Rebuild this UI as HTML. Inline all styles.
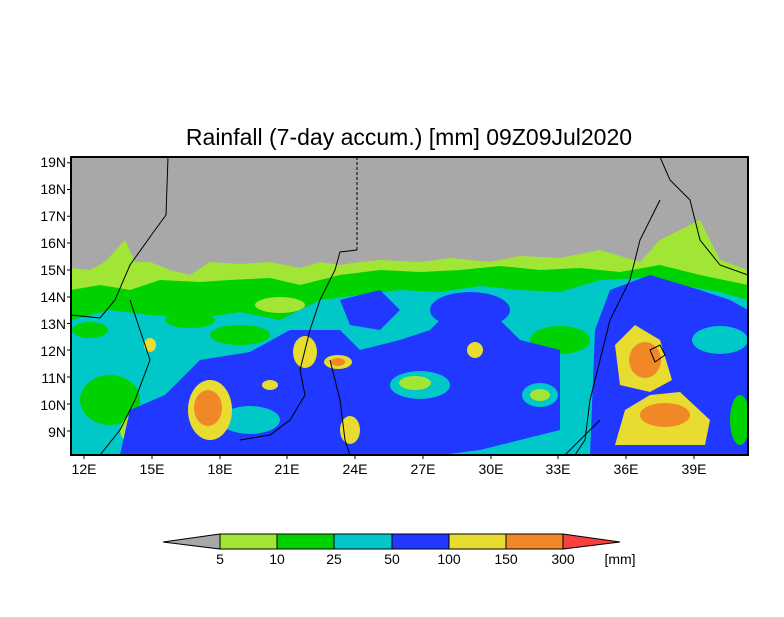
<!DOCTYPE html>
<html><head><style>
body{margin:0;background:#fff;width:784px;height:612px;overflow:hidden;font-family:"Liberation Sans",sans-serif}
</style></head><body>
<svg width="784" height="612" xmlns="http://www.w3.org/2000/svg" font-family="Liberation Sans, sans-serif">
<defs><clipPath id="c"><rect x="71" y="157" width="677" height="298"/></clipPath></defs>
<text x="409" y="145" font-size="23" text-anchor="middle" fill="#000">Rainfall (7-day accum.) [mm] 09Z09Jul2020</text>
<g clip-path="url(#c)">
<rect x="71" y="157" width="677" height="298" fill="#a8a8a8"/>
<path d="M71 268 L90 270 L105 262 L125 240 L135 262 L150 262 L170 270 L190 275 L210 262 L240 264 L270 262 L300 268 L320 262 L340 265 L360 262 L380 260 L420 262 L450 258 L490 262 L520 256 L560 258 L600 250 L640 262 L660 240 L700 220 L720 260 L748 270 L748 455 L71 455 Z" fill="#a2e635"/>
<path d="M71 290 L100 285 L130 290 L160 280 L200 282 L230 280 L270 278 L300 285 L340 275 L380 270 L420 272 L460 270 L500 266 L540 270 L580 268 L620 272 L660 265 L700 275 L748 285 L748 455 L71 455 Z" fill="#00d200"/>
<path d="M71 320 L110 310 L150 315 L200 318 L240 312 L280 320 L320 300 L360 295 L400 290 L440 292 L480 286 L520 290 L560 292 L600 280 L640 278 L680 285 L720 292 L748 300 L748 455 L71 455 Z" fill="#00c8c8"/>
<ellipse cx="240" cy="335" rx="30" ry="10" fill="#00d200"/>
<ellipse cx="190" cy="320" rx="25" ry="8" fill="#00d200"/>
<ellipse cx="280" cy="305" rx="25" ry="8" fill="#a2e635"/>
<ellipse cx="560" cy="340" rx="30" ry="14" fill="#00d200"/>
<ellipse cx="110" cy="400" rx="30" ry="25" fill="#00d200"/>
<ellipse cx="150" cy="430" rx="30" ry="20" fill="#a2e635"/>
<ellipse cx="90" cy="330" rx="18" ry="8" fill="#00d200"/>
<path d="M120 455 L130 410 L165 395 L200 360 L250 352 L290 330 L340 330 L360 350 L400 340 L430 330 L460 300 L500 320 L520 340 L560 350 L560 430 L520 440 L480 450 L440 455 Z" fill="#2038ff"/>
<path d="M590 455 L595 330 L610 290 L650 275 L700 290 L730 300 L748 310 L748 455 Z" fill="#2038ff"/>
<path d="M340 300 L380 290 L400 310 L380 330 L350 325 Z" fill="#2038ff"/>
<ellipse cx="470" cy="310" rx="40" ry="18" fill="#2038ff"/>
<ellipse cx="250" cy="420" rx="30" ry="14" fill="#00c8c8"/>
<ellipse cx="420" cy="385" rx="30" ry="14" fill="#00c8c8"/>
<ellipse cx="415" cy="383" rx="16" ry="7" fill="#a2e635"/>
<ellipse cx="540" cy="395" rx="18" ry="12" fill="#00c8c8"/>
<ellipse cx="540" cy="395" rx="10" ry="6" fill="#a2e635"/>
<ellipse cx="720" cy="340" rx="28" ry="14" fill="#00c8c8"/>
<ellipse cx="740" cy="420" rx="10" ry="25" fill="#00d200"/>
<ellipse cx="210" cy="410" rx="22" ry="30" fill="#e8dc30"/>
<ellipse cx="208" cy="408" rx="14" ry="18" fill="#f08828"/>
<ellipse cx="305" cy="352" rx="12" ry="16" fill="#e8dc30"/>
<ellipse cx="338" cy="362" rx="14" ry="7" fill="#e8dc30"/>
<ellipse cx="338" cy="362" rx="7" ry="4" fill="#f08828"/>
<ellipse cx="350" cy="430" rx="10" ry="14" fill="#e8dc30"/>
<ellipse cx="270" cy="385" rx="8" ry="5" fill="#e8dc30"/>
<ellipse cx="150" cy="345" rx="6" ry="7" fill="#e8dc30"/>
<ellipse cx="475" cy="350" rx="8" ry="8" fill="#e8dc30"/>
<path d="M615 345 L635 325 L660 340 L672 380 L650 392 L620 385 Z" fill="#e8dc30"/>
<ellipse cx="645" cy="360" rx="16" ry="18" fill="#f08828"/>
<path d="M615 445 L625 410 L650 395 L680 392 L710 420 L705 445 Z" fill="#e8dc30"/>
<ellipse cx="665" cy="415" rx="25" ry="12" fill="#f08828"/>
<g fill="none" stroke="#000" stroke-width="1">
<path d="M168 157 L166 215 L155 230 L130 265 L115 300 L100 318 L71 315"/>
<path d="M357 157 L357 250" stroke-dasharray="3,2"/>
<path d="M357 250 L340 252 L335 270 L320 300 L310 330 L300 370 L305 395 L290 420 L270 435 L240 440"/>
<path d="M130 300 L140 330 L150 360 L135 400 L120 430 L100 455"/>
<path d="M330 360 L340 400 L345 440 L350 455"/>
<path d="M660 157 L670 180 L690 200 L700 240 L720 265 L748 275"/>
<path d="M660 200 L640 240 L630 280 L610 320 L600 360 L590 400 L585 440 L575 455"/>
<path d="M565 455 L580 440 L600 420"/>
<path d="M650 350 L660 345 L665 355 L655 362 Z"/>
</g>
</g>
<rect x="71" y="157" width="677" height="298" fill="none" stroke="#000" stroke-width="2"/>
<g font-size="14" fill="#000" text-anchor="end">
<text x="66" y="167">19N</text><text x="66" y="194">18N</text><text x="66" y="221">17N</text>
<text x="66" y="248">16N</text><text x="66" y="275">15N</text><text x="66" y="302">14N</text>
<text x="66" y="329">13N</text><text x="66" y="356">12N</text><text x="66" y="383">11N</text>
<text x="66" y="410">10N</text><text x="66" y="437">9N</text>
</g>
<g stroke="#000"><path d="M67 162.7h4M67 189.5h4M67 216.3h4M67 243h4M67 270h4M67 297h4M67 323.5h4M67 350h4M67 377h4M67 404h4M67 431h4"/>
<path d="M84 455v4M152 455v4M220 455v4M287 455v4M355 455v4M423 455v4M491 455v4M558 455v4M626 455v4M694 455v4"/></g>
<g font-size="14" fill="#000" text-anchor="middle">
<text x="84" y="474">12E</text><text x="152" y="474">15E</text><text x="220" y="474">18E</text>
<text x="287" y="474">21E</text><text x="355" y="474">24E</text><text x="423" y="474">27E</text>
<text x="491" y="474">30E</text><text x="558" y="474">33E</text><text x="626" y="474">36E</text>
<text x="694" y="474">39E</text>
</g>
<polygon points="163,542 220,534 220,549" fill="#a8a8a8" stroke="#000"/>
<rect x="220" y="534" width="57" height="15" fill="#a2e635" stroke="#000"/>
<rect x="277" y="534" width="57" height="15" fill="#00d200" stroke="#000"/>
<rect x="334" y="534" width="58" height="15" fill="#00c8c8" stroke="#000"/>
<rect x="392" y="534" width="57" height="15" fill="#2038ff" stroke="#000"/>
<rect x="449" y="534" width="57" height="15" fill="#e8dc30" stroke="#000"/>
<rect x="506" y="534" width="57" height="15" fill="#f08828" stroke="#000"/>
<polygon points="563,534 620,542 563,549" fill="#f84040" stroke="#000"/>
<g font-size="14" fill="#000" text-anchor="middle">
<text x="220" y="564">5</text><text x="277" y="564">10</text><text x="334" y="564">25</text>
<text x="392" y="564">50</text><text x="449" y="564">100</text><text x="506" y="564">150</text>
<text x="563" y="564">300</text><text x="620" y="564">[mm]</text>
</g>
</svg>
</body></html>
